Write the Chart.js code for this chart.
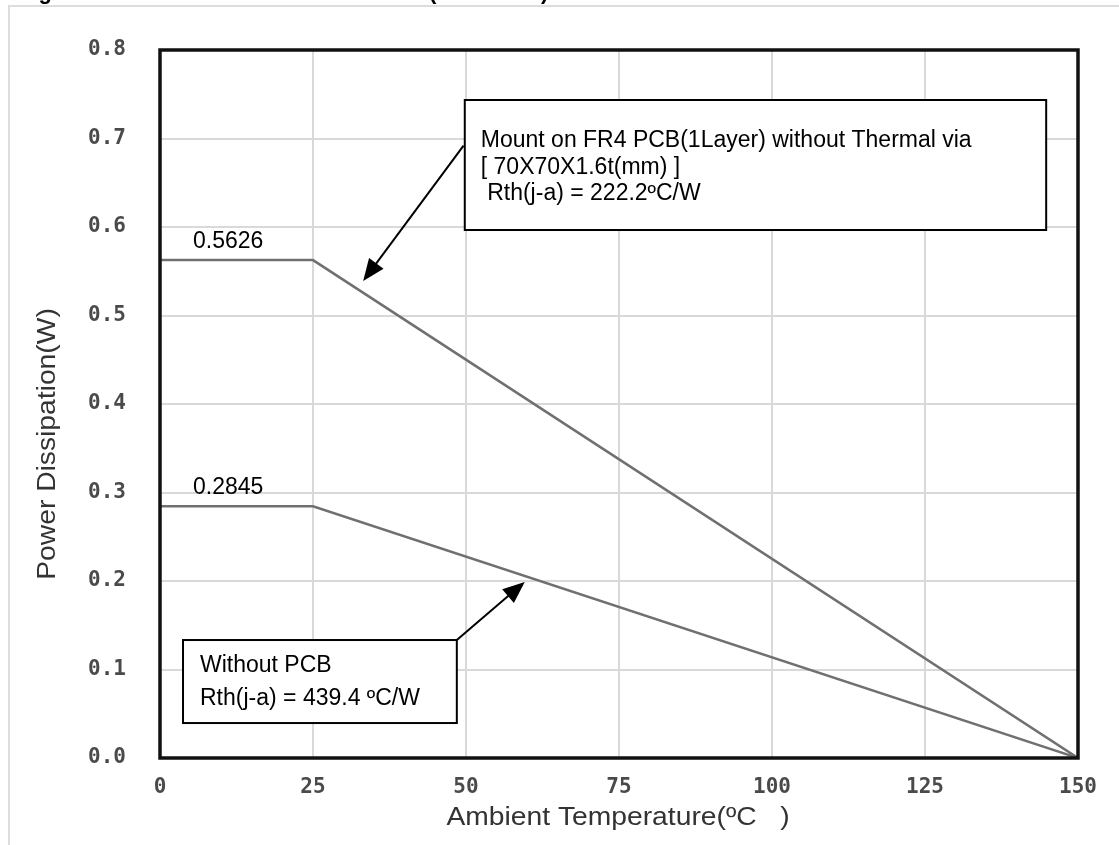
<!DOCTYPE html>
<html>
<head>
<meta charset="utf-8">
<script src="https://cdn.jsdelivr.net/npm/chart.js@4.4.1/dist/chart.umd.min.js"></script>
<style>
  html, body { margin: 0; padding: 0; background: #ffffff; }
  #wrap { width: 1119px; height: 845px; position: relative; }
</style>
</head>
<body>
<div id="wrap"><canvas id="c" width="1119" height="845"></canvas></div>
<script>
// ---- data ----
const temperatures = [0, 25, 150];
const powerWithPcb = [0.5626, 0.5626, 0];
const powerWithoutPcb = [0.2845, 0.2845, 0];
const xTicks = [0, 25, 50, 75, 100, 125, 150];
const yTicks = [0.0, 0.1, 0.2, 0.3, 0.4, 0.5, 0.6, 0.7, 0.8];
const peakLabels = ['0.5626', '0.2845'];
const pcbNote = ['Mount on FR4 PCB(1Layer) without Thermal via', '[ 70X70X1.6t(mm) ]', ' Rth(j-a) = 222.2\u00BAC/W'];
const noPcbNote = ['Without PCB', 'Rth(j-a) = 439.4 \u00BAC/W'];
const xTitle = 'Ambient Temperature(\u00BAC   )';
const yTitle = 'Power Dissipation(W)';

const LABEL_FONT = '"Liberation Sans", Arial, sans-serif';
const TICK_FONT = '"DejaVu Sans Mono", "Liberation Mono", monospace';

const decor = {
  id: 'decor',
  afterDraw(chart) {
    const ctx = chart.ctx;
    const xs = chart.scales.x, ys = chart.scales.y;
    const a = chart.chartArea;
    const X = v => xs.getPixelForValue(v);
    const Y = v => ys.getPixelForValue(v);
    ctx.save();

    // outer light frame
    ctx.strokeStyle = '#dddddd';
    ctx.lineWidth = 2;
    ctx.beginPath();
    ctx.moveTo(9, 845); ctx.lineTo(9, 6); ctx.lineTo(1119, 6);
    ctx.stroke();

    // plot frame
    ctx.strokeStyle = '#111111';
    ctx.lineWidth = 3.5;
    ctx.strokeRect(a.left, a.top, a.right - a.left, a.bottom - a.top);

    // truncated heading fragments at the very top
    ctx.fillStyle = '#000';
    ctx.font = 'bold 22px ' + LABEL_FONT;
    ctx.textBaseline = 'alphabetic';
    ctx.textAlign = 'left';
    ctx.fillText('Fig', 19, -1);
    ctx.fillText('(', 429, -1);
    ctx.fillText(')', 541, -1);

    // peak value labels
    ctx.font = '23px ' + LABEL_FONT;
    ctx.fillStyle = '#000';
    ctx.fillText(peakLabels[0], X(5.4), Y(powerWithPcb[0]) - 12);
    ctx.fillText(peakLabels[1], X(5.4), Y(powerWithoutPcb[0]) - 12);

    // note boxes
    function box(x0, y0, x1, y1, lines, dx, baselines) {
      const l = X(x0), t = Y(y0), r = X(x1), b = Y(y1);
      ctx.fillStyle = '#fff';
      ctx.fillRect(l, t, r - l, b - t);
      ctx.strokeStyle = '#000';
      ctx.lineWidth = 2;
      ctx.strokeRect(l, t, r - l, b - t);
      ctx.fillStyle = '#000';
      ctx.font = '23px ' + LABEL_FONT;
      ctx.textAlign = 'left';
      ctx.textBaseline = 'alphabetic';
      lines.forEach((s, i) => ctx.fillText(s, l + dx, t + baselines[i]));
    }
    function arrow(x0, y0, x1, y1) {
      const sx = X(x0), sy = Y(y0), ex = X(x1), ey = Y(y1);
      const ang = Math.atan2(ey - sy, ex - sx);
      const hl = 22, hw = 9;
      ctx.strokeStyle = '#000';
      ctx.fillStyle = '#000';
      ctx.lineWidth = 2;
      ctx.beginPath();
      ctx.moveTo(sx, sy);
      ctx.lineTo(ex - Math.cos(ang) * hl * 0.8, ey - Math.sin(ang) * hl * 0.8);
      ctx.stroke();
      ctx.beginPath();
      ctx.moveTo(ex, ey);
      ctx.lineTo(ex - Math.cos(ang) * hl - Math.sin(ang) * hw, ey - Math.sin(ang) * hl + Math.cos(ang) * hw);
      ctx.lineTo(ex - Math.cos(ang) * hl + Math.sin(ang) * hw, ey - Math.sin(ang) * hl - Math.cos(ang) * hw);
      ctx.closePath();
      ctx.fill();
    }
    arrow(49.6, 0.692, 33.2, 0.539);
    arrow(48.5, 0.1333, 59.6, 0.199);
    box(49.8, 0.7435, 144.8, 0.5966, pcbNote, 16, [47, 74, 100]);
    box(3.76, 0.1333, 48.5, 0.0395, noPcbNote, 17, [32, 65]);

    // axis titles (slightly widened lettering like the reference)
    ctx.fillStyle = '#333';
    ctx.font = '25px ' + LABEL_FONT;
    ctx.textAlign = 'center';
    ctx.textBaseline = 'middle';
    ctx.save();
    ctx.translate(618, 818);
    ctx.scale(1.13, 1);
    ctx.fillText(xTitle, 0, 0);
    ctx.restore();
    ctx.save();
    ctx.translate(48, 444);
    ctx.rotate(-Math.PI / 2);
    ctx.scale(1.13, 1);
    ctx.fillText(yTitle, 0, 0);
    ctx.restore();

    ctx.restore();
  }
};

new Chart(document.getElementById('c'), {
  type: 'line',
  data: {
    datasets: [
      {
        label: 'FR4 PCB',
        data: temperatures.map((t, i) => ({ x: t, y: powerWithPcb[i] })),
        borderColor: '#707070', borderWidth: 2.5, pointRadius: 0, fill: false, tension: 0
      },
      {
        label: 'Without PCB',
        data: temperatures.map((t, i) => ({ x: t, y: powerWithoutPcb[i] })),
        borderColor: '#707070', borderWidth: 2.5, pointRadius: 0, fill: false, tension: 0
      }
    ]
  },
  options: {
    responsive: false,
    animation: false,
    devicePixelRatio: 1,
    layout: { padding: { left: 0, top: 50, right: 41, bottom: 0 } },
    plugins: { legend: { display: false }, tooltip: { enabled: false }, title: { display: false } },
    scales: {
      x: {
        type: 'linear', min: 0, max: 150,
        afterFit(s) { s.height = 87; },
        afterBuildTicks(s) { s.ticks = xTicks.map(v => ({ value: v })); },
        grid: { color: '#d9d9d9', lineWidth: 2, drawTicks: false },
        border: { display: false },
        ticks: { padding: 17, color: '#4a4a4a', font: { family: TICK_FONT, size: 21, weight: 'bold' }, maxRotation: 0, autoSkip: false }
      },
      y: {
        type: 'linear', min: 0, max: 0.8,
        afterFit(s) { s.width = 160; },
        afterBuildTicks(s) { s.ticks = yTicks.map(v => ({ value: v })); },
        grid: { color: '#d9d9d9', lineWidth: 2, drawTicks: false },
        border: { display: false },
        ticks: { padding: 34, color: '#4a4a4a', font: { family: TICK_FONT, size: 21, weight: 'bold' }, callback: v => Number(v).toFixed(1) }
      }
    }
  },
  plugins: [decor]
});
</script>
</body>
</html>
